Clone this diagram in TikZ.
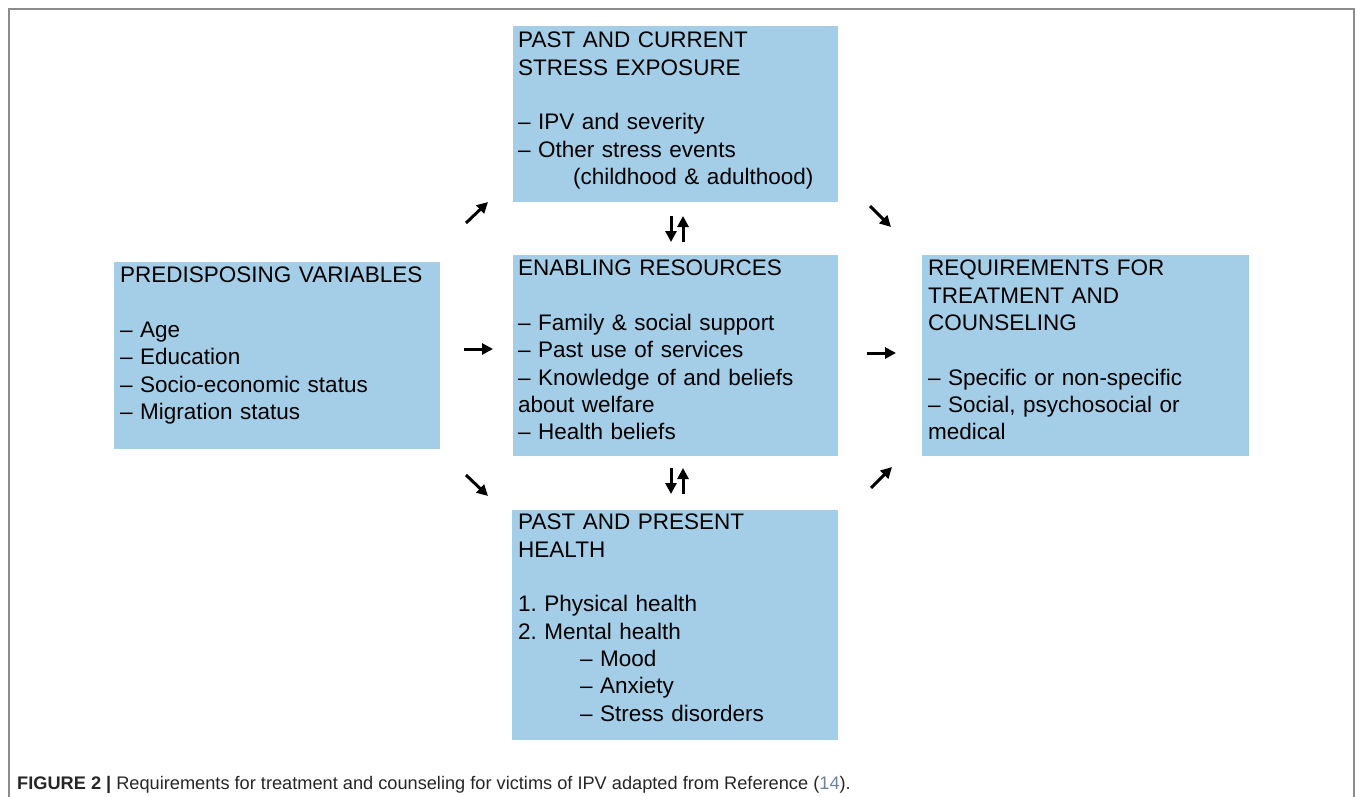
\documentclass[tikz,border=0pt]{standalone}
\usepackage{fontspec}
\setmainfont{Liberation Sans}
\usetikzlibrary{arrows.meta}
\frenchspacing
\definecolor{boxblue}{RGB}{164,206,231}
\definecolor{framegray}{RGB}{140,140,140}
\definecolor{refblue}{RGB}{110,130,160}
\tikzset{
  box/.style={fill=boxblue, draw=none, inner sep=0pt, anchor=north west},
  txt/.style={anchor=north west, inner sep=0pt, align=left, text width=320pt,
    font=\fontsize{22.5}{27.3}\selectfont, text=black},
  arr/.style={line width=3pt, -{Triangle[length=11pt,width=11pt]}},
}
\begin{document}
\begin{tikzpicture}[x=1pt,y=-1pt]
\useasboundingbox (0,0) rectangle (1357,797);
% frame
\draw[framegray, line width=2pt] (9,797) -- (9,9) -- (1354,9) -- (1354,797);
% boxes
\node[box, minimum width=325pt, minimum height=176pt] (top) at (513,26) {};
\node[box, minimum width=325pt, minimum height=201pt] (mid) at (513,255) {};
\node[box, minimum width=326pt, minimum height=230pt] (bot) at (512,510) {};
\node[box, minimum width=326pt, minimum height=187pt] (left) at (114,262) {};
\node[box, minimum width=327pt, minimum height=201pt] (right) at (922,255) {};
% texts
\node[txt] (topt) at ([shift={(5,6)}]top.north west) {PAST AND CURRENT\\ STRESS EXPOSURE\\[27.3pt]
– IPV and severity\\ – Other stress events\\ \hspace*{55pt}(childhood \& adulthood)};
\node[txt] (midt) at ([shift={(5,5)}]mid.north west) {ENABLING RESOURCES\\[27.3pt]
– Family \& social support\\ – Past use of services\\ – Knowledge of and beliefs\\ about welfare\\ – Health beliefs};
\node[txt] (bott) at ([shift={(6,4)}]bot.north west) {PAST AND PRESENT\\ HEALTH\\[27.3pt]
1. Physical health\\ 2. Mental health\\ \hspace*{62pt}– Mood\\ \hspace*{62pt}– Anxiety\\ \hspace*{62pt}– Stress disorders};
\node[txt] (leftt) at ([shift={(6,5)}]left.north west) {PREDISPOSING VARIABLES\\[27.3pt]
– Age\\ – Education\\ – Socio-economic status\\ – Migration status};
\node[txt] (rightt) at ([shift={(6,5)}]right.north west) {REQUIREMENTS FOR\\ TREATMENT AND\\ COUNSELING\\[27.3pt]
– Specific or non-specific\\ – Social, psychosocial or\\ medical};
% arrows
\coordinate (a1s) at (466,223); \coordinate (a1e) at (488,202);
\coordinate (a2s) at (671,216); \coordinate (a2e) at (671,242);
\coordinate (a3s) at (683,242); \coordinate (a3e) at (683,216);
\coordinate (a4s) at (870,206); \coordinate (a4e) at (891,227);
\coordinate (a5s) at (464,349); \coordinate (a5e) at (493,349);
\coordinate (a6s) at (867,353); \coordinate (a6e) at (896,353);
\coordinate (a7s) at (466,475); \coordinate (a7e) at (488,496);
\coordinate (a8s) at (671,468); \coordinate (a8e) at (671,494);
\coordinate (a9s) at (683,494); \coordinate (a9e) at (683,468);
\coordinate (a10s) at (871,488); \coordinate (a10e) at (892,467);
\foreach \i in {1,...,10} {\draw[arr] (a\i s) -- (a\i e);}
% caption
\node[anchor=base west, inner sep=0pt, font=\fontsize{18.2}{21}\selectfont, text=black!85] (cap) at (17,789)
 {\textbf{FIGURE 2 |} Requirements for treatment and counseling for victims of IPV adapted from Reference (\textcolor{refblue}{14}).};
\end{tikzpicture}
\end{document}
